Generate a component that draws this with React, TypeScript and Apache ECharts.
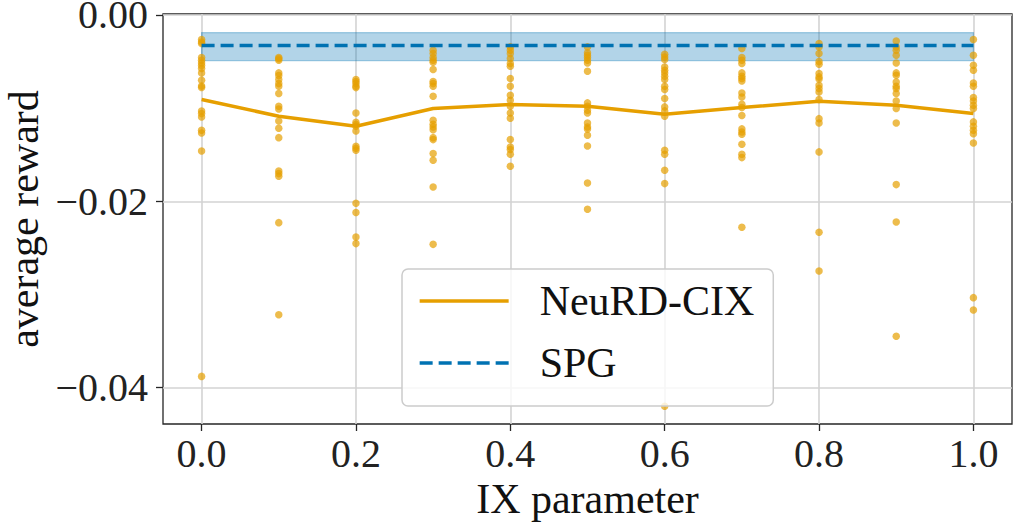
import React, { useEffect, useRef } from 'react';
import * as echarts from 'echarts';

const ixParams = [0.0, 0.1, 0.2, 0.3, 0.4, 0.5, 0.6, 0.7, 0.8, 0.9, 1.0];

const neurdMean = [-0.00908, -0.01087, -0.01195, -0.01005, -0.00962, -0.0098, -0.01066, -0.00994, -0.00927, -0.00969, -0.01059];

const spgX = [0.0, 1.0];
const spgMean = -0.00328;
const spgLow = -0.0049;
const spgHigh = -0.0019;

const runs00 = [-0.00264, -0.0029, -0.00307, -0.00457, -0.00486, -0.00515, -0.00543, -0.00575, -0.00623, -0.00701, -0.00764, -0.00778, -0.01031, -0.01059, -0.01095, -0.01238, -0.01267, -0.0146, -0.03879];
const runs01 = [-0.00458, -0.0047, -0.00486, -0.00622, -0.00651, -0.00694, -0.00737, -0.00765, -0.00844, -0.0098, -0.01009, -0.01138, -0.01216, -0.01317, -0.01674, -0.01703, -0.0173, -0.02229, -0.03217];
const runs02 = [-0.00694, -0.00715, -0.00737, -0.00765, -0.0078, -0.01052, -0.01152, -0.01173, -0.01195, -0.01245, -0.0141, -0.01431, -0.01452, -0.02021, -0.02121, -0.02383, -0.02454];
const runs03 = [-0.00379, -0.00415, -0.00458, -0.00486, -0.00508, -0.00586, -0.00715, -0.00737, -0.00765, -0.00873, -0.0113, -0.01173, -0.01202, -0.01231, -0.01317, -0.01338, -0.01488, -0.0156, -0.01846, -0.02462];
const runs04 = [-0.00343, -0.00379, -0.00415, -0.00468, -0.00522, -0.00551, -0.00683, -0.00765, -0.00862, -0.00916, -0.0098, -0.01052, -0.01109, -0.01338, -0.01417, -0.01445, -0.01495, -0.01624];
const runs05 = [-0.00343, -0.00407, -0.00433, -0.00458, -0.00486, -0.00515, -0.00604, -0.00944, -0.0098, -0.01023, -0.01052, -0.01159, -0.01202, -0.01223, -0.01291, -0.01406, -0.01803, -0.02086];
const runs06 = [-0.00422, -0.00451, -0.00479, -0.00558, -0.00594, -0.00622, -0.00658, -0.00694, -0.00765, -0.00801, -0.00898, -0.00987, -0.0103, -0.01087, -0.01452, -0.01495, -0.01667, -0.0181, -0.042];
const runs07 = [-0.00361, -0.00458, -0.00486, -0.00522, -0.00622, -0.00658, -0.00683, -0.00708, -0.00837, -0.0088, -0.00959, -0.00994, -0.0108, -0.01223, -0.01256, -0.01281, -0.01388, -0.01495, -0.01531, -0.02279];
const runs08 = [-0.00307, -0.00343, -0.00415, -0.00501, -0.00529, -0.00629, -0.00665, -0.00687, -0.00755, -0.0079, -0.00826, -0.00908, -0.01113, -0.01159, -0.0147, -0.02333, -0.02748];
const runs09 = [-0.00279, -0.00343, -0.00379, -0.00433, -0.00515, -0.00622, -0.00647, -0.00719, -0.00765, -0.0079, -0.00844, -0.00923, -0.01005, -0.01159, -0.01821, -0.02222, -0.03449];
const runs10 = [-0.00264, -0.00433, -0.0054, -0.00594, -0.0073, -0.00765, -0.00887, -0.00923, -0.00969, -0.01005, -0.01148, -0.01195, -0.01238, -0.01274, -0.01374, -0.03034, -0.03167];

const runsByIx = [runs00, runs01, runs02, runs03, runs04, runs05, runs06, runs07, runs08, runs09, runs10];

const xTicks = [0.0, 0.2, 0.4, 0.6, 0.8, 1.0];
const yTicks = [-0.04, -0.02, 0.0];

const FONT = "'Liberation Serif', 'DejaVu Serif', serif";
const ORANGE = '#E69F00';
const BLUE = '#0072B2';
const INK = '#262626';

export default function App() {
  const ref = useRef<HTMLDivElement>(null);

  useEffect(() => {
    if (!ref.current) return;
    const chart = echarts.init(ref.current, undefined, { renderer: 'svg' });

    const scatterData: number[][] = [];
    runsByIx.forEach((arr, i) => arr.forEach((v) => scatterData.push([ixParams[i], v])));

    const option: any = {
      animation: false,
      backgroundColor: '#ffffff',
      grid: {
        left: 163,
        right: 1,
        top: 14,
        bottom: 98,
        show: true,
        borderColor: INK,
        borderWidth: 1.3,
        backgroundColor: 'transparent',
        containLabel: false,
        outerBoundsMode: 'none',
      },
      xAxis: {
        type: 'value',
        min: -0.05,
        max: 1.05,
        name: 'IX parameter',
        nameLocation: 'middle',
        nameGap: 51,
        nameTextStyle: { fontFamily: FONT, fontSize: 42, lineHeight: 34, color: '#111' },
        axisLine: { show: false, onZero: false },
        axisTick: { show: true, length: 7, customValues: xTicks, lineStyle: { color: INK, width: 1.3 } },
        axisLabel: {
          customValues: xTicks,
          margin: 9,
          fontFamily: FONT,
          fontSize: 40,
          color: '#222',
          formatter: (v: number) => v.toFixed(1),
        },
        splitLine: { show: true, lineStyle: { color: '#d3d3d3', width: 1.6 } },
      },
      yAxis: {
        type: 'value',
        min: -0.0439,
        max: 0.0001,
        name: 'average reward',
        nameLocation: 'middle',
        nameGap: 119,
        nameTextStyle: { fontFamily: FONT, fontSize: 42, lineHeight: 34, color: '#111' },
        axisLine: { show: false, onZero: false },
        axisTick: { show: true, length: 7, customValues: yTicks, lineStyle: { color: INK, width: 1.3 } },
        axisLabel: {
          customValues: yTicks,
          margin: 15,
          fontFamily: FONT,
          fontSize: 40,
          lineHeight: 24,
          color: '#222',
          formatter: (v: number) => (Math.abs(v) < 1e-9 ? '0.00' : (v < 0 ? '\u2212' : '') + Math.abs(v).toFixed(2)),
        },
        splitLine: { show: true, lineStyle: { color: '#d3d3d3', width: 1.6 } },
      },
      legend: {
        orient: 'vertical',
        left: 402,
        top: 269,
        padding: [11, 19, 22, 16],
        itemWidth: 89,
        itemHeight: 20,
        itemGap: 20,
        backgroundColor: 'rgba(255,255,255,0.8)',
        borderColor: '#cccccc',
        borderWidth: 1.5,
        borderRadius: 6,
        itemStyle: { opacity: 0 },
        lineStyle: { width: 3.3 },
        data: ['NeuRD-CIX', 'SPG'],
        textStyle: {
          fontFamily: FONT,
          fontSize: 42,
          lineHeight: 40,
          color: '#111',
          padding: [0, 0, 0, 26],
        },
      },
      series: [
        {
          name: 'runs',
          type: 'scatter',
          data: scatterData,
          symbolSize: 7.5,
          itemStyle: { color: ORANGE, opacity: 0.7 },
          z: 2,
          silent: true,
        },
        {
          name: 'SPG',
          type: 'line',
          data: spgX.map((x) => [x, spgMean]),
          symbol: 'none',
          lineStyle: { color: BLUE, width: 3.3, type: [13, 6] },
          itemStyle: { color: BLUE },
          z: 4,
          markArea: {
            silent: true,
            itemStyle: { color: 'rgba(0,114,178,0.3)', borderColor: 'rgba(0,114,178,0.35)', borderWidth: 1.2 },
            data: [[{ xAxis: spgX[0], yAxis: spgHigh }, { xAxis: spgX[1], yAxis: spgLow }]],
          },
        },
        {
          name: 'NeuRD-CIX',
          type: 'line',
          data: ixParams.map((x, i) => [x, neurdMean[i]]),
          symbol: 'none',
          lineStyle: { color: ORANGE, width: 3.5 },
          itemStyle: { color: ORANGE },
          z: 3,
        },
      ],
    };

    chart.setOption(option);
    return () => chart.dispose();
  }, []);

  return (
    <div
      ref={ref}
      style={{ position: 'fixed', left: 0, top: 0, width: 1013, height: 522, background: '#fff' }}
    />
  );
}
